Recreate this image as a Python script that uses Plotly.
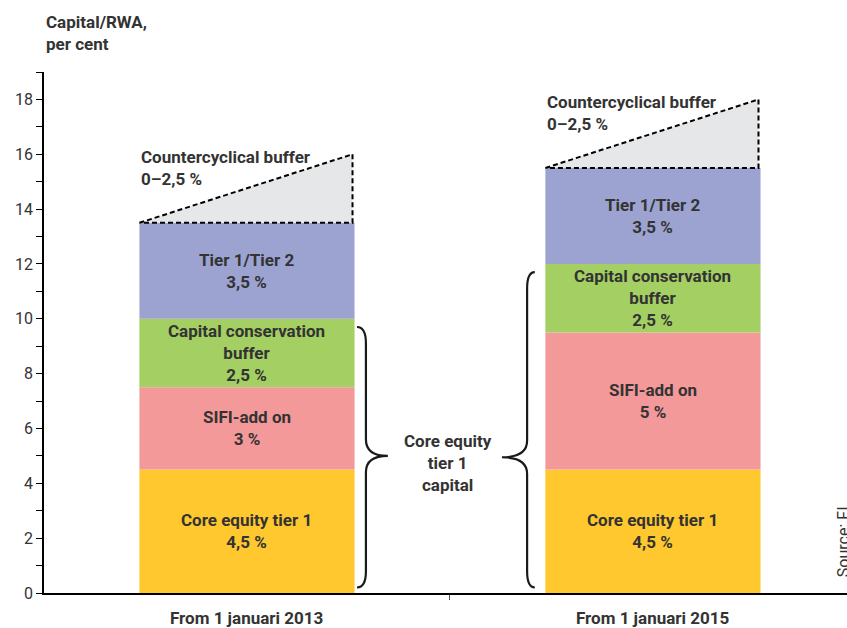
import plotly.graph_objects as go

categories = ["From 1 januari 2013", "From 1 januari 2015"]
core_equity = [4.5, 4.5]
sifi_addon = [3, 5]
conservation = [2.5, 2.5]
tier1_tier2 = [3.5, 3.5]
countercyclical = [2.5, 2.5]

layer_names = ["Core equity tier 1", "SIFI-add on", "Capital conservation<br>buffer", "Tier 1/Tier 2"]
layer_values = [core_equity, sifi_addon, conservation, tier1_tier2]
layer_colors = ["#FFC82E", "#F4999A", "#A4CF62", "#9CA3D1"]
ccb_label = "Countercyclical buffer<br>0\u20132,5 %"

TXT = "#333333"
FONT = "Roboto"
FS = 17
W = 0.53


def fmt(v):
    return f"{v:g}".replace(".", ",") + " %"


fig = go.Figure()
annotations = []
xs = list(range(len(categories)))
bases = [0.0] * len(categories)
for name, vals, col in zip(layer_names, layer_values, layer_colors):
    fig.add_trace(go.Bar(x=xs, y=vals, base=list(bases), width=W, marker=dict(color=col, line=dict(width=0)),
                         hoverinfo="skip", showlegend=False))
    for i, v in enumerate(vals):
        annotations.append(dict(x=i, y=bases[i] + v / 2, xref="x", yref="y", showarrow=False,
                                text=f"{name}<br>{fmt(v)}", font=dict(family=FONT, size=FS, color=TXT, weight="bold"),
                                align="center"))
        bases[i] += v

# countercyclical triangles
for i, v in enumerate(countercyclical):
    b = bases[i]
    fig.add_trace(go.Scatter(x=[i - W / 2, i + W / 2 - 0.005, i + W / 2 - 0.005, i - W / 2],
                             y=[b, b + v, b, b], mode="lines", fill="toself", fillcolor="#E6E7E8",
                             line=dict(color="black", width=2, dash="5px,3px"), hoverinfo="skip",
                             showlegend=False))
    annotations.append(dict(x=i - W / 2, y=b + v, xref="x", yref="y", xanchor="left", yanchor="top",
                            yshift=9, showarrow=False, text=ccb_label, align="left",
                            font=dict(family=FONT, size=FS, color=TXT, weight="bold")))


def brace(xe, xs_, xt, ytop, ybot, ymid, d=0.6):
    return (f"M {xe},{ytop} Q {xs_},{ytop} {xs_},{ytop - d} L {xs_},{ymid + d} "
            f"Q {xs_},{ymid} {xt},{ymid} Q {xs_},{ymid} {xs_},{ymid - d} "
            f"L {xs_},{ybot + d} Q {xs_},{ybot} {xe},{ybot}")


shapes = [
    dict(type="path", xref="x", yref="y", path=brace(0.271, 0.293, 0.347, 9.7, 0.2, 5.0),
         line=dict(color="#1a1a1a", width=2.2)),
    dict(type="path", xref="x", yref="y", path=brace(0.709, 0.690, 0.628, 11.7, 0.2, 4.95),
         line=dict(color="#1a1a1a", width=2.2)),
]

annotations.append(dict(x=0.495, y=4.75, xref="x", yref="y", showarrow=False,
                        text="Core equity<br>tier 1<br>capital", align="center",
                        font=dict(family=FONT, size=FS, color=TXT, weight="bold")))

for i, c in enumerate(categories):
    annotations.append(dict(x=i, y=0, xref="x", yref="paper", yanchor="top", yshift=-13, showarrow=False, text=c,
                            font=dict(family=FONT, size=FS, color=TXT, weight="bold")))

annotations.append(dict(x=0, y=1.0, xref="paper", yref="paper", xanchor="left", yanchor="bottom", yshift=16,
                        showarrow=False, text="Capital/RWA,<br>per cent", align="left",
                        font=dict(family=FONT, size=FS, color=TXT, weight="bold")))

annotations.append(dict(x=0.9965, y=0.098, xref="paper", yref="paper", xanchor="center", yanchor="middle",
                        showarrow=False, textangle=-90,
                        text="Source: FI", font=dict(family=FONT, size=16, color=TXT)))

fig.update_layout(
    width=847, height=628,
    margin=dict(l=44, r=0, t=72, b=35),
    paper_bgcolor="white", plot_bgcolor="white",
    barmode="overlay",
    showlegend=False,
    hovermode=False,
    shapes=shapes,
    annotations=annotations,
    xaxis=dict(range=[-0.5, 1.478], showgrid=False, zeroline=False, showline=True, linecolor="black",
               linewidth=1.5, tickvals=[0.5], ticktext=[""], ticks="outside", ticklen=5, tickcolor="#555",
               fixedrange=True),
    yaxis=dict(range=[0, 19], showgrid=False, zeroline=False, showline=True, linecolor="black", linewidth=1.5,
               tickvals=list(range(0, 19, 2)), ticks="outside", ticklen=6, tickcolor="black",
               tickfont=dict(family=FONT, size=16, color=TXT),
               minor=dict(dtick=1, tick0=0, ticks="outside", ticklen=6, tickcolor="black"),
               fixedrange=True),
)

fig.write_html("out.html", config={"displayModeBar": False},
               post_script="document.body.style.margin='0';document.body.style.overflow='hidden';")
